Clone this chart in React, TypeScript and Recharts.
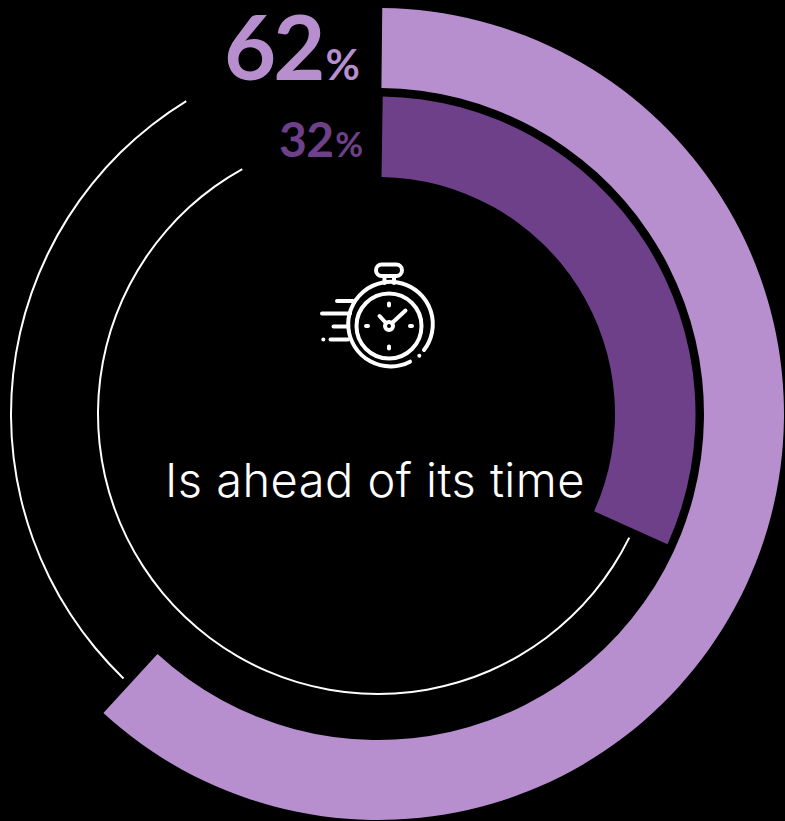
import { Cell, Pie, PieChart } from "recharts"

const categories = ["Share", "Rest"]
const outerValues = [62, 38]
const innerValues = [32, 68]

const LIGHT = "#b78fce"
const DARK = "#6f408a"

const toRows = (values: number[]) =>
  values.map((value, i) => ({ name: categories[i], value }))

const outerData = toRows(outerValues)
const innerData = toRows(innerValues)

const CX = 378
const CY = 414

const line = { fill: "none", stroke: "#fff", strokeWidth: 4, strokeLinecap: "round" as const }

function StopwatchIcon() {
  return (
    <g>
      <rect {...line} x={376} y={264.5} width={26} height={11.5} rx={5.7} />
      <path {...line} d="M384.5 276V283M394 276V283" />
      <path {...line} d="M410 361.7A42.3 42.3 0 1 1 424 350" />
      <circle {...line} cx={389} cy={326} r={32.5} />
      <circle {...line} cx={389} cy={326} r={4} />
      <path {...line} d="M392 323L405.5 310.5M386 323L379.5 316" />
      <path {...line} d="M389 303.5V305.5M389 346.5V348.5M366 326H368M410 326H412" />
      <path {...line} d="M337 301H353M322 313.5H350M333.5 326.5H347M330.5 339.5H348" />
      <circle cx={323.3} cy={339.5} r={2} fill="#fff" />
      <circle cx={419.3} cy={355.7} r={2} fill="#fff" />
    </g>
  )
}

export default function App() {
  return (
    <div style={{ position: "absolute", left: 0, top: 0, width: 785, height: 821, background: "#000" }}>
      <style>{"html,body{margin:0;background:#000}"}</style>
      <PieChart width={785} height={821} margin={{ top: 0, right: 0, bottom: 0, left: 0 }}>
        <Pie
          data={outerData}
          dataKey="value"
          cx={CX}
          cy={CY}
          innerRadius={326}
          outerRadius={406}
          startAngle={89.4}
          endAngle={-268.6}
          stroke="none"
          isAnimationActive={false}
        >
          <Cell fill={LIGHT} />
          <Cell fill="transparent" />
        </Pie>
        <Pie
          data={innerData}
          dataKey="value"
          cx={CX}
          cy={CY}
          innerRadius={237}
          outerRadius={317.5}
          startAngle={89.15}
          endAngle={-265.2}
          stroke="none"
          isAnimationActive={false}
        >
          <Cell fill={DARK} />
          <Cell fill="transparent" />
        </Pie>
        <Pie
          data={[outerData[1]]}
          dataKey="value"
          cx={CX}
          cy={CY}
          innerRadius={366}
          outerRadius={368}
          startAngle={-133.9}
          endAngle={-238.5}
          fill="#fff"
          stroke="none"
          isAnimationActive={false}
        />
        <Pie
          data={[innerData[1]]}
          dataKey="value"
          cx={CX}
          cy={CY}
          innerRadius={279}
          outerRadius={281}
          startAngle={-26.2}
          endAngle={-241}
          fill="#fff"
          stroke="none"
          isAnimationActive={false}
        />
        <text x={224} y={80} fontFamily="Lato" fontWeight={700} fontSize={90} letterSpacing={-3} fill={LIGHT}>
          {outerValues[0]}
        </text>
        <text x={360} y={80} textAnchor="end" fontFamily="Lato" fontWeight={700} fontSize={42} fill={LIGHT}>
          %
        </text>
        <text x={279} y={157} fontFamily="Lato" fontWeight={700} fontSize={48} letterSpacing={-0.5} fill={DARK}>
          {innerValues[0]}
        </text>
        <text x={363} y={157} textAnchor="end" fontFamily="Lato" fontWeight={700} fontSize={34} fill={DARK}>
          %
        </text>
        <StopwatchIcon />
        <text x={375} y={497} textAnchor="middle" fontFamily="Inter" fontWeight={300} fontSize={47} letterSpacing={0.45} fill="#fff">
          Is ahead of its time
        </text>
      </PieChart>
    </div>
  )
}
